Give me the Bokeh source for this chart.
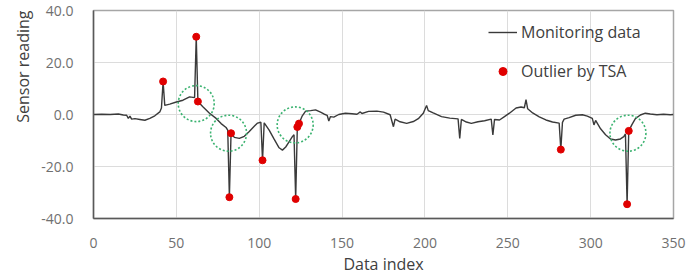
from bokeh.plotting import figure
from bokeh.models import Legend, LegendItem, Range1d, FixedTicker, CustomJSTickFormatter, Title
from bokeh.embed import file_html
from bokeh.resources import INLINE

# Monitoring data (data index, sensor reading)
data_index = [0, 5, 10, 15, 18, 20, 21, 22, 23, 25, 28, 31, 34, 37, 40, 41, 42, 43, 46, 50,
              54, 58, 61, 62, 63, 66, 70, 74, 77, 80, 81, 82, 83, 85, 88, 91, 94, 97, 99, 101,
              102, 103, 106, 109, 112, 114, 116, 118, 120, 121, 122, 123, 124, 126, 128, 131, 134, 137, 139, 141,
              142, 143, 145, 148, 152, 156, 159, 161, 162, 166, 171, 175, 179, 181, 182, 185, 189, 193, 196, 199,
              201, 202, 205, 210, 215, 220, 221, 222, 225, 228, 232, 236, 240, 241, 242, 245, 248, 251, 255, 258,
              260, 261, 262, 265, 269, 273, 277, 281, 282, 283, 284, 287, 291, 295, 298, 301, 302, 303, 306, 309,
              312, 315, 318, 320, 321, 322, 323, 325, 327, 330, 333, 336, 340, 344, 348, 350]
sensor_reading = [0.0, 0.1, 0.0, 0.2, -0.2, -0.3, -1.5, -0.6, -1.8, -1.6, -1.9, -2.2, -1.5, -0.5, 1.0, 2.5, 12.7, 3.5, 4.0, 4.8,
                  5.5, 6.8, 6.5, 29.9, 5.0, 3.0, 0.5, -1.5, -3.5, -5.0, -6.0, -31.8, -7.2, -8.8, -9.2, -8.4, -6.5, -4.5, -3.3, -3.0,
                  -17.6, -3.2, -6.0, -9.5, -12.8, -13.7, -12.5, -10.5, -8.5, -7.8, -32.5, -4.8, -3.5, -0.5, 1.3, 1.5, 1.8, 0.9, 0.2, -0.3,
                  -2.5, -0.8, -1.0, 0.0, 0.5, 0.3, 0.1, 1.0, 0.4, 1.2, 1.3, 0.9, -0.1, -4.7, -1.8, -2.8, -3.4, -2.7, -1.6, 0.5,
                  3.5, 1.5, 0.6, -0.8, -1.4, -1.7, -9.2, -1.9, -2.9, -3.4, -2.8, -2.4, -1.8, -7.9, -1.9, -2.1, -0.8, 0.5, 2.5, 2.9,
                  2.6, 5.7, 2.2, 0.6, -0.9, -2.1, -2.9, -3.3, -13.5, -3.0, -1.8, -1.2, -0.3, -0.1, -0.6, -1.5, -4.0, -2.3, -5.5, -7.8,
                  -9.4, -9.8, -9.4, -8.5, -7.5, -34.5, -6.3, -3.8, -1.6, -0.2, 0.5, 0.2, -0.1, 0.1, -0.1, 0.0]

# Outliers detected by TSA
outlier_index = [42, 62, 63, 82, 83, 102, 122, 123, 124, 282, 322, 323]
outlier_value = [12.7, 29.9, 5.0, -31.8, -7.2, -17.6, -32.5, -4.8, -3.5, -13.5, -34.5, -6.3]

# Highlight circles (dotted green)
circle_index = [62, 81.5, 121.7, 322.5]
circle_value = [4.2, -7.2, -4.0, -7.2]

x_ticks = [0, 50, 100, 150, 200, 250, 300, 350]
y_ticks = [-40, -20, 0, 20, 40]

FONT = "Open Sans"

p = figure(width=687, height=279, output_backend="svg", toolbar_location=None,
           x_range=Range1d(0, 350), y_range=Range1d(-40, 40),
           min_border_left=93, min_border_right=14, min_border_top=10, min_border_bottom=61)

p.background_fill_color = "white"
p.border_fill_color = "white"
p.outline_line_color = "#a6a6a6"
p.outline_line_width = 1.5

line_r = p.line(data_index, sensor_reading, line_color="#3a3a3a", line_width=1.4)
pts_r = p.scatter(outlier_index, outlier_value, size=7, fill_color="#e00000", line_color="#e00000")
p.scatter(circle_index, circle_value, size=36, marker="circle", fill_color=None,
          line_color="#3cb371", line_width=1.6, line_dash="2 2")

p.xaxis.ticker = FixedTicker(ticks=x_ticks)
p.yaxis.ticker = FixedTicker(ticks=y_ticks)
p.yaxis.formatter = CustomJSTickFormatter(code="return tick.toFixed(1);")

for ax in (p.xaxis[0], p.yaxis[0]):
    ax.axis_line_color = "#595959"
    ax.axis_line_width = 1.5
    ax.major_tick_out = 0
    ax.major_tick_in = 0
    ax.minor_tick_out = 0
    ax.minor_tick_in = 0
    ax.major_label_text_font = FONT
    ax.major_label_text_font_size = "14px"
    ax.major_label_text_color = "#707070"
    ax.axis_label_text_font = FONT
    ax.axis_label_text_font_size = "16px"
    ax.axis_label_text_font_style = "normal"
    ax.axis_label_text_color = "#404040"

p.xaxis.axis_label = "Data index"
p.xaxis.major_label_standoff = 19
p.xaxis.axis_label_standoff = 2
p.yaxis.major_label_standoff = 20

# y-axis title, placed toward the top as in the reference
p.add_layout(Title(text="Sensor reading", align="right", text_font=FONT,
                   text_font_size="16px", text_font_style="normal",
                   text_color="#404040", standoff=10), "left")

p.xgrid.grid_line_color = "#dcdcdc"
p.ygrid.grid_line_color = "#dcdcdc"
p.xgrid.grid_line_width = 1
p.ygrid.grid_line_width = 1

legend = Legend(items=[LegendItem(label="Monitoring data", renderers=[line_r]),
                       LegendItem(label="Outlier by TSA", renderers=[pts_r])],
                location=(395, 136))
legend.background_fill_alpha = 0
legend.border_line_color = None
legend.padding = 0
legend.margin = 0
legend.spacing = 17
legend.glyph_width = 29
legend.glyph_height = 20
legend.label_height = 20
legend.label_standoff = 4
legend.label_text_font = FONT
legend.label_text_font_size = "16px"
legend.label_text_color = "#404040"
p.add_layout(legend)

open("out.html", "w").write(file_html(p, INLINE))
